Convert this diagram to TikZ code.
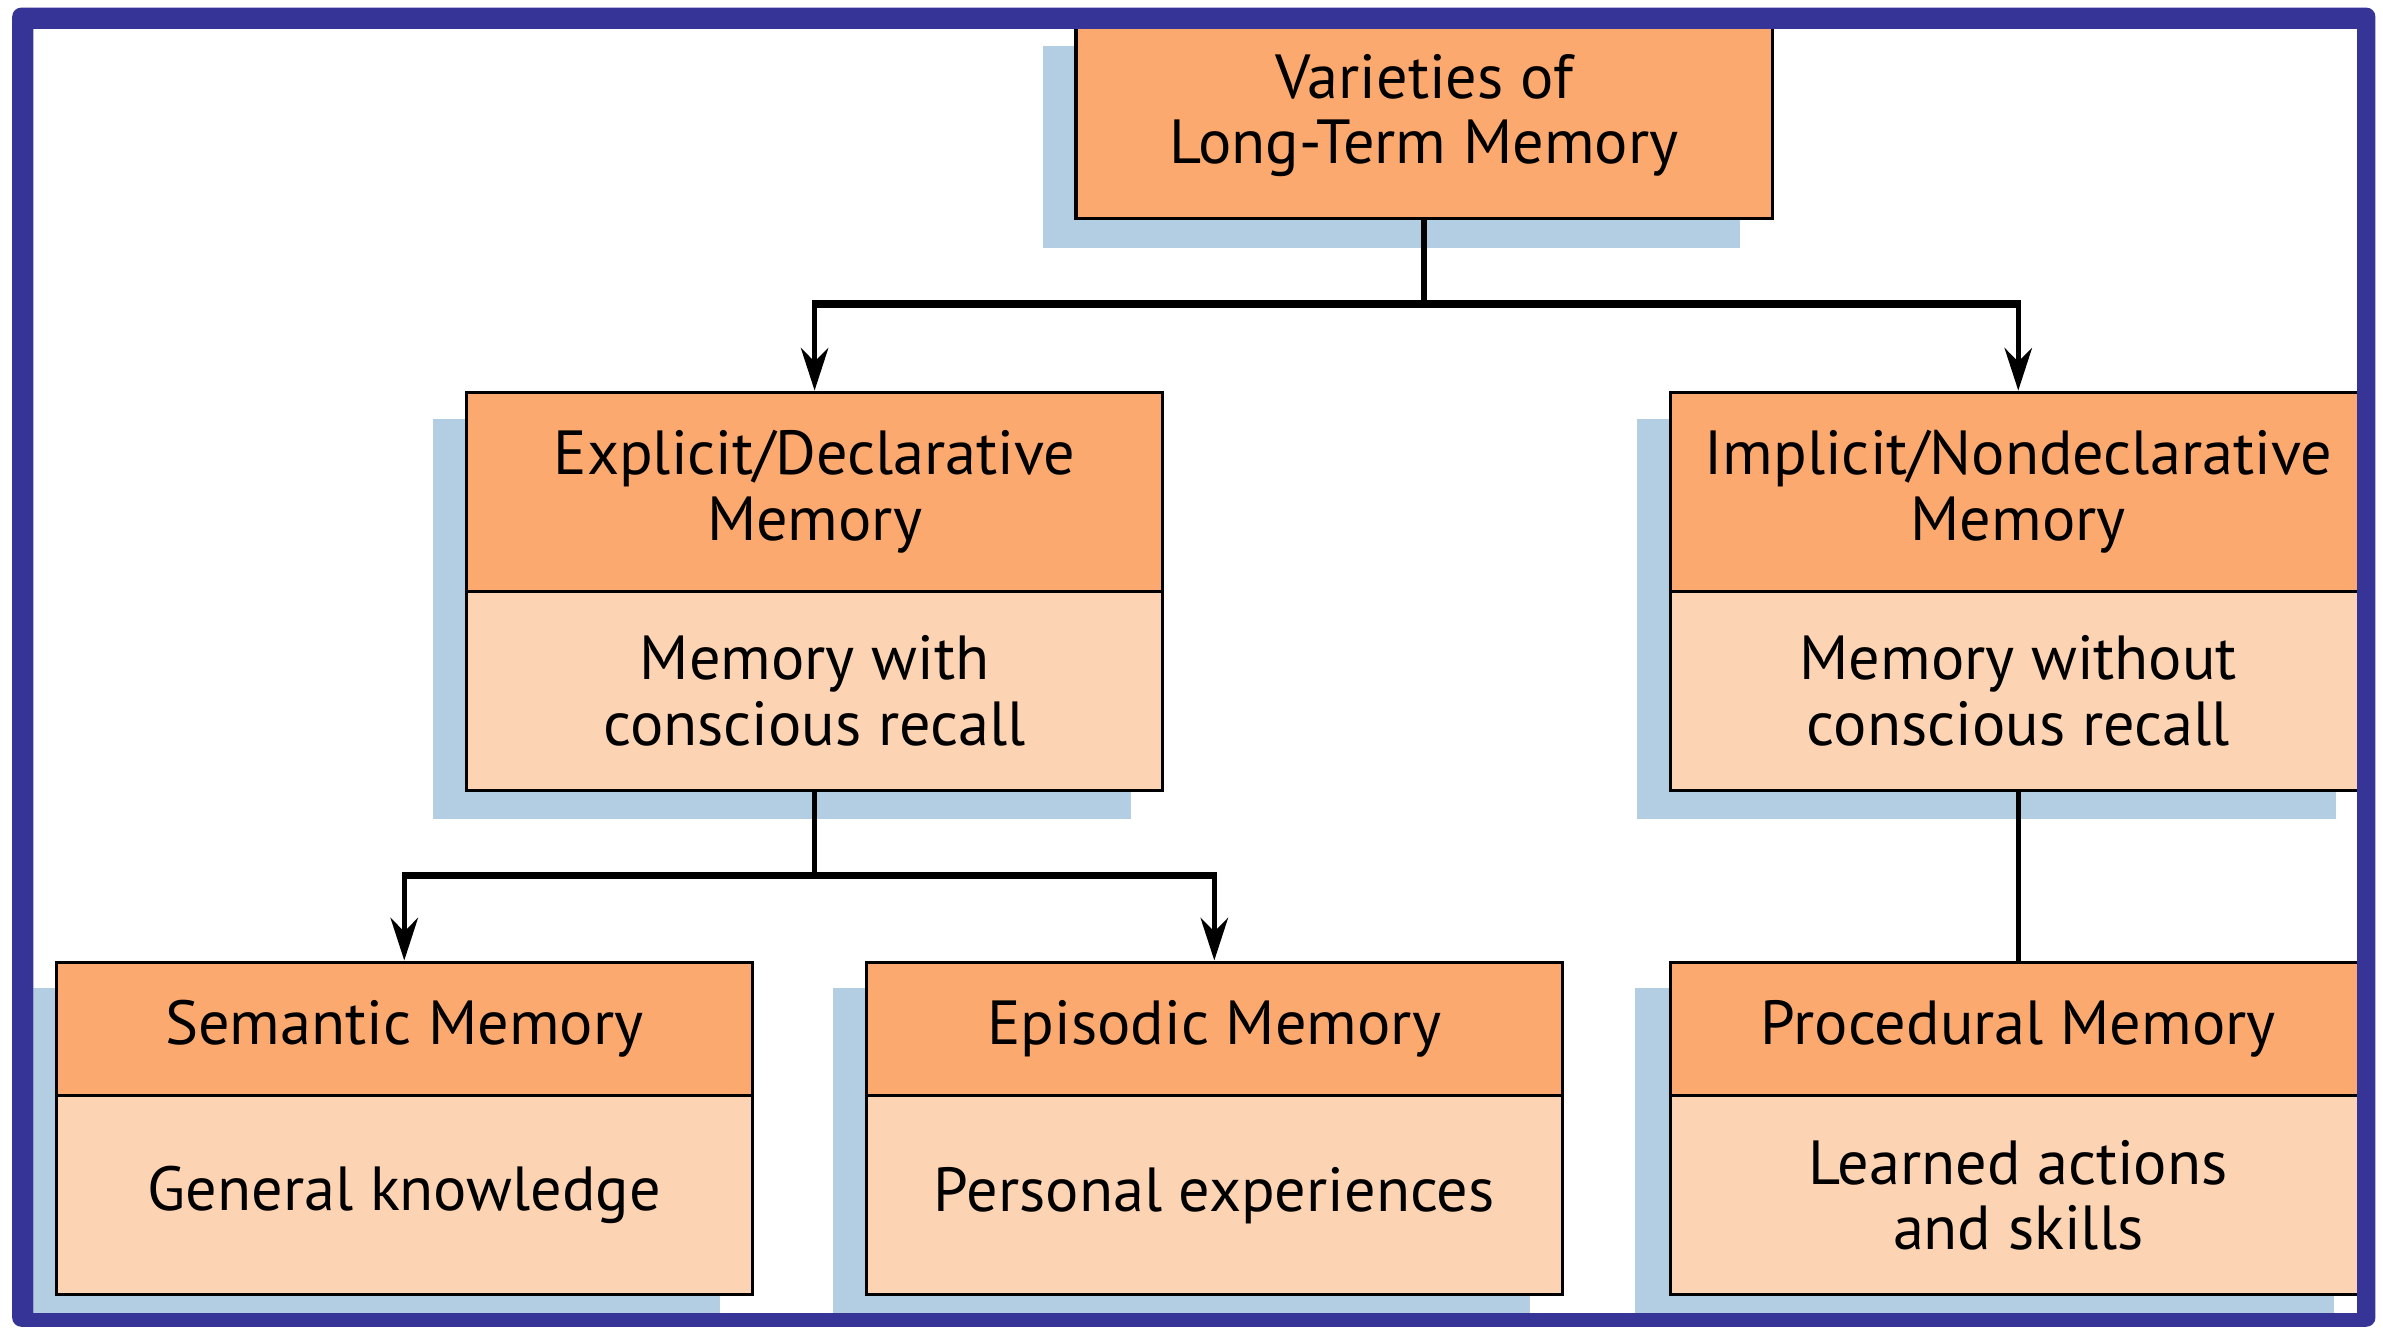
\documentclass[tikz,border=0pt]{standalone}
\usepackage{fontspec}
\setmainfont{PT Sans}
\usetikzlibrary{arrows.meta}
\definecolor{frameblue}{RGB}{54,52,150}
\definecolor{hdrorange}{RGB}{251,169,110}
\definecolor{bdypeach}{RGB}{252,211,179}
\definecolor{shdblue}{RGB}{179,205,227}
\tikzset{
  boxbase/.style={draw=black, line width=2pt, inner sep=0pt, align=center, anchor=north west,
    minimum width=458pt, font=\fontsize{41}{43}\selectfont},
  hdrbox/.style={boxbase, fill=hdrorange},
  bdybox/.style={boxbase, fill=bdypeach},
  shadowfill/.style={fill=shdblue},
  conn/.style={draw=black, line width=3.5pt},
  bar/.style={draw=black, line width=5pt},
  arr/.style={conn, -{Stealth[length=28pt,width=18pt,inset=9pt]}},
}
\begin{document}
\begin{tikzpicture}[x=1pt,y=-1pt]
\useasboundingbox (0,0) rectangle (1568,874);
\fill[white] (0,0) rectangle (1568,874);
\begin{scope}
\clip (22,19) rectangle (1551,864);
% shadows
\fill[shadowfill] (686,30) rectangle (1145,163);
\fill[shadowfill] (285,276) rectangle (744,539);
\fill[shadowfill] (1077,276) rectangle (1537,539);
\fill[shadowfill] (15,650) rectangle (474,870);
\fill[shadowfill] (548,650) rectangle (1007,870);
\fill[shadowfill] (1076,650) rectangle (1536,870);
% boxes
\node[hdrbox, minimum height=136pt] (top) at (707,7) {Varieties of\\Long-Term Memory};
\node[hdrbox, minimum height=131pt] (exh) at (306,257) {Explicit/Declarative\\Memory};
\node[bdybox, minimum height=131pt] (exb) at (306,388) {Memory with\\conscious recall};
\node[hdrbox, minimum height=131pt] (imh) at (1098,257) {Implicit/Nondeclarative\\Memory};
\node[bdybox, minimum height=131pt] (imb) at (1098,388) {Memory without\\conscious recall};
\node[hdrbox, minimum height=88pt] (seh) at (36,632) {Semantic Memory};
\node[bdybox, minimum height=131pt] (seb) at (36,720) {General knowledge};
\node[hdrbox, minimum height=88pt] (eph) at (569,632) {Episodic Memory};
\node[bdybox, minimum height=131pt] (epb) at (569,720) {Personal experiences};
\node[hdrbox, minimum height=88pt] (prh) at (1098,632) {Procedural Memory};
\node[bdybox, minimum height=131pt] (prb) at (1098,720) {Learned actions\\and skills};
% connectors
\coordinate (j1) at (top.south |- 0,200);
\coordinate (b1L) at (exh.north |- j1);
\coordinate (b1R) at (imh.north |- j1);
\draw[conn] (top.south) -- (j1);
\draw[bar] ([xshift=-1.5pt]b1L) -- ([xshift=1.5pt]b1R);
\draw[arr] (b1L) -- (exh.north);
\draw[arr] (b1R) -- (imh.north);
\coordinate (j2) at (exb.south |- 0,576);
\coordinate (b2L) at (seh.north |- j2);
\coordinate (b2R) at (eph.north |- j2);
\draw[conn] (exb.south) -- (j2);
\draw[bar] ([xshift=-1.5pt]b2L) -- ([xshift=1.5pt]b2R);
\draw[arr] (b2L) -- (seh.north);
\draw[arr] (b2R) -- (eph.north);
\draw[conn] (imb.south) -- (prh.north);
\end{scope}
% frame
\fill[frameblue, even odd rule] [rounded corners=6pt] (8,5) rectangle (1563,873) [sharp corners] (22,19) rectangle (1551,864);
\end{tikzpicture}
\end{document}
